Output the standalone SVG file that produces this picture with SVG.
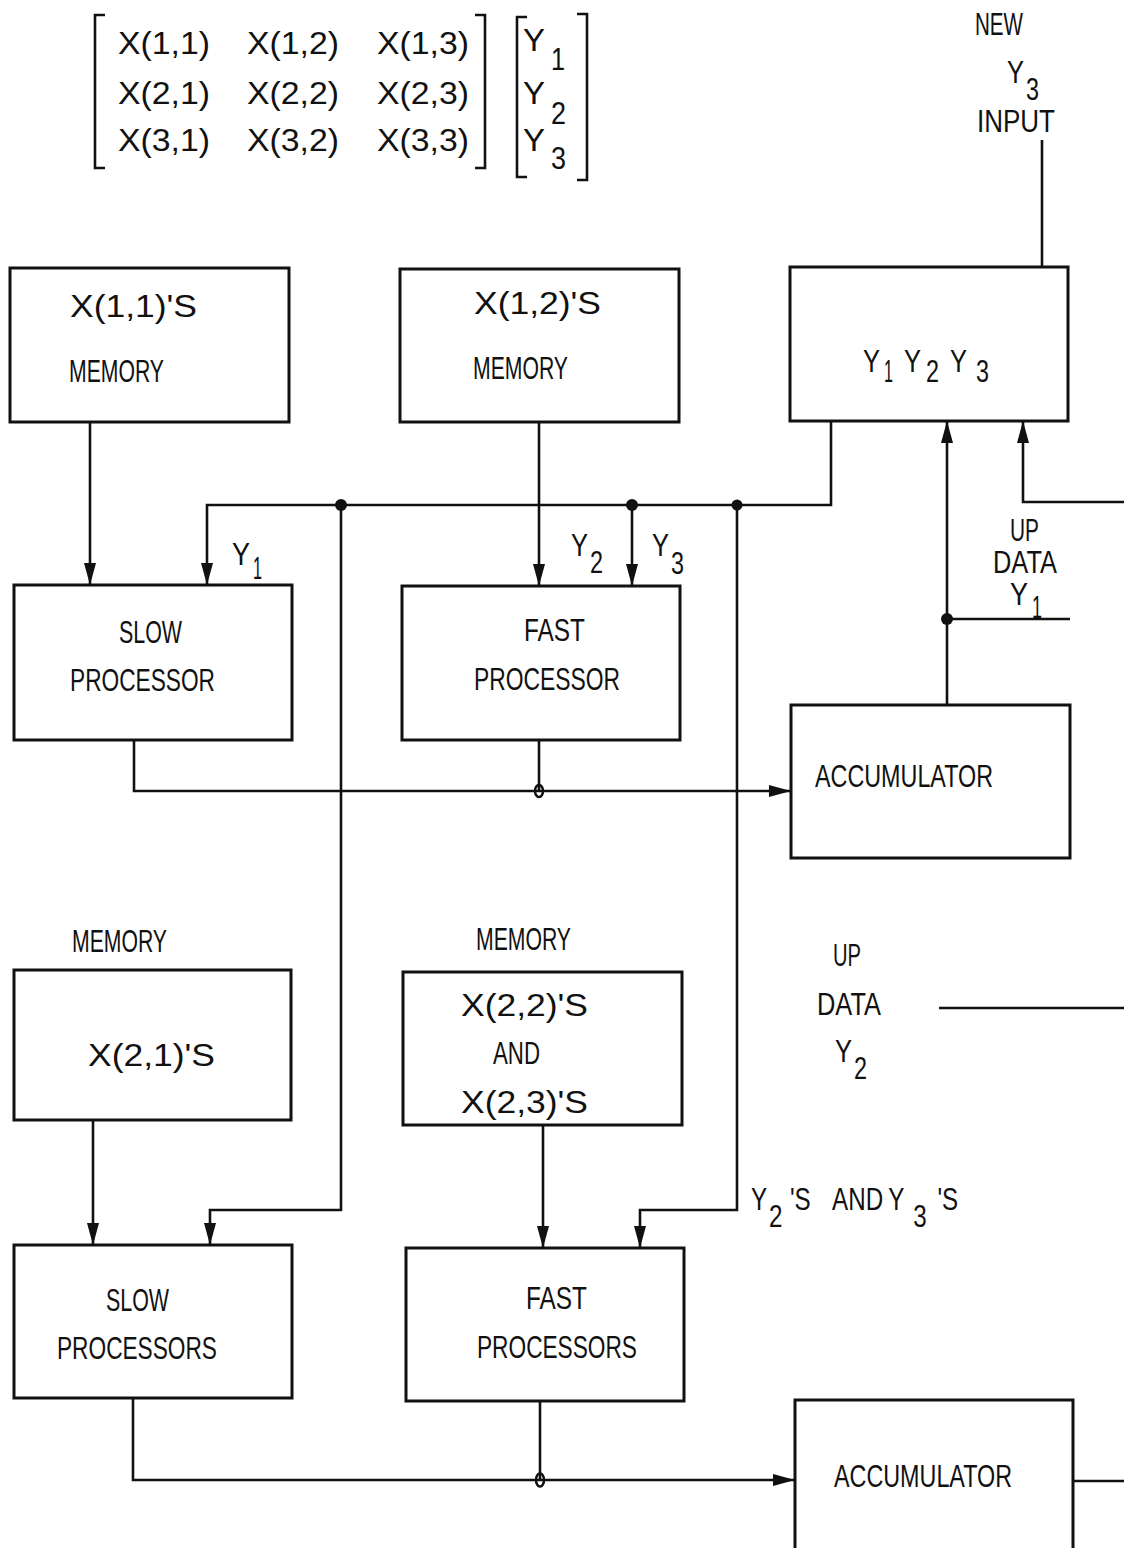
<svg xmlns="http://www.w3.org/2000/svg" width="1124" height="1548" viewBox="0 0 1124 1548">
<style>
text{font-family:"Liberation Sans","DejaVu Sans",sans-serif;font-size:31px;fill:#111}
.m{font-size:32px}
.box{fill:none;stroke:#111;stroke-width:3}
.ln{fill:none;stroke:#111;stroke-width:2.6}
.dot{fill:#111}
.odot{fill:none;stroke:#111;stroke-width:2.5}
</style>
<defs>
<marker id="ah" viewBox="0 0 22 12" refX="22" refY="6" markerWidth="22" markerHeight="12" markerUnits="userSpaceOnUse" orient="auto">
<path d="M0,0 L22,6 L0,12 Z" fill="#111"/>
</marker>
</defs>
<g id="matrix">
<path class="ln" d="M105,15 H95 V168 H105"/>
<path class="ln" d="M475,15 H485 V168 H475"/>
<path class="ln" d="M527,17 H517 V177 H527"/>
<path class="ln" d="M577,14 H587 V180 H577"/>
<text class="m" x="118" y="54" textLength="92" lengthAdjust="spacingAndGlyphs">X(1,1)</text>
<text class="m" x="247" y="54" textLength="92" lengthAdjust="spacingAndGlyphs">X(1,2)</text>
<text class="m" x="377" y="54" textLength="92" lengthAdjust="spacingAndGlyphs">X(1,3)</text>
<text class="m" x="118" y="104" textLength="92" lengthAdjust="spacingAndGlyphs">X(2,1)</text>
<text class="m" x="247" y="104" textLength="92" lengthAdjust="spacingAndGlyphs">X(2,2)</text>
<text class="m" x="377" y="104" textLength="92" lengthAdjust="spacingAndGlyphs">X(2,3)</text>
<text class="m" x="118" y="151" textLength="92" lengthAdjust="spacingAndGlyphs">X(3,1)</text>
<text class="m" x="247" y="151" textLength="92" lengthAdjust="spacingAndGlyphs">X(3,2)</text>
<text class="m" x="377" y="151" textLength="92" lengthAdjust="spacingAndGlyphs">X(3,3)</text>
<text class="m" x="523" y="51" textLength="22" lengthAdjust="spacingAndGlyphs">Y</text>
<text class="m" x="551" y="70" textLength="14" lengthAdjust="spacingAndGlyphs">1</text>
<text class="m" x="523" y="104" textLength="22" lengthAdjust="spacingAndGlyphs">Y</text>
<text class="m" x="551" y="124" textLength="15" lengthAdjust="spacingAndGlyphs">2</text>
<text class="m" x="523" y="151" textLength="22" lengthAdjust="spacingAndGlyphs">Y</text>
<text class="m" x="551" y="169" textLength="15" lengthAdjust="spacingAndGlyphs">3</text>
</g>
<g id="new-input-label">
<text x="975" y="35" textLength="48" lengthAdjust="spacingAndGlyphs">NEW</text>
<text x="1007" y="83" textLength="17" lengthAdjust="spacingAndGlyphs">Y</text>
<text x="1026" y="100" textLength="13" lengthAdjust="spacingAndGlyphs">3</text>
<text x="977" y="132" textLength="78" lengthAdjust="spacingAndGlyphs">INPUT</text>
</g>
<g id="mem11">
<rect class="box" x="10" y="268" width="279" height="154"/>
<text x="70" y="317" textLength="127" lengthAdjust="spacingAndGlyphs">X(1,1)'S</text>
<text x="69" y="382" textLength="95" lengthAdjust="spacingAndGlyphs">MEMORY</text>
</g>
<g id="mem12">
<rect class="box" x="400" y="269" width="279" height="153"/>
<text x="474" y="314" textLength="127" lengthAdjust="spacingAndGlyphs">X(1,2)'S</text>
<text x="473" y="379" textLength="95" lengthAdjust="spacingAndGlyphs">MEMORY</text>
</g>
<g id="yreg">
<rect class="box" x="790" y="267" width="278" height="154"/>
<text x="863" y="372" textLength="17" lengthAdjust="spacingAndGlyphs">Y</text>
<text x="884" y="382" textLength="9" lengthAdjust="spacingAndGlyphs">1</text>
<text x="904" y="372" textLength="17" lengthAdjust="spacingAndGlyphs">Y</text>
<text x="926" y="382" textLength="13" lengthAdjust="spacingAndGlyphs">2</text>
<text x="950" y="372" textLength="17" lengthAdjust="spacingAndGlyphs">Y</text>
<text x="976" y="382" textLength="13" lengthAdjust="spacingAndGlyphs">3</text>
</g>
<g id="slowproc">
<rect class="box" x="14" y="585" width="278" height="155"/>
<text x="119" y="643" textLength="63" lengthAdjust="spacingAndGlyphs">SLOW</text>
<text x="70" y="691" textLength="145" lengthAdjust="spacingAndGlyphs">PROCESSOR</text>
</g>
<g id="fastproc">
<rect class="box" x="402" y="586" width="278" height="154"/>
<text x="524" y="641" textLength="61" lengthAdjust="spacingAndGlyphs">FAST</text>
<text x="474" y="690" textLength="146" lengthAdjust="spacingAndGlyphs">PROCESSOR</text>
</g>
<g id="acc1">
<rect class="box" x="791" y="705" width="279" height="153"/>
<text x="815" y="787" textLength="178" lengthAdjust="spacingAndGlyphs">ACCUMULATOR</text>
</g>
<g id="updata1">
<text x="1010" y="541" textLength="29" lengthAdjust="spacingAndGlyphs">UP</text>
<text x="993" y="573" textLength="64" lengthAdjust="spacingAndGlyphs">DATA</text>
<text x="1010" y="605" textLength="18" lengthAdjust="spacingAndGlyphs">Y</text>
<text x="1032" y="618" textLength="10" lengthAdjust="spacingAndGlyphs">1</text>
</g>
<g id="bus-labels">
<text x="232" y="565" textLength="18" lengthAdjust="spacingAndGlyphs">Y</text>
<text x="253" y="579" textLength="9" lengthAdjust="spacingAndGlyphs">1</text>
<text x="571" y="556" textLength="17" lengthAdjust="spacingAndGlyphs">Y</text>
<text x="590" y="573" textLength="13" lengthAdjust="spacingAndGlyphs">2</text>
<text x="652" y="556" textLength="17" lengthAdjust="spacingAndGlyphs">Y</text>
<text x="671" y="574" textLength="13" lengthAdjust="spacingAndGlyphs">3</text>
</g>
<g id="mem21">
<text x="72" y="952" textLength="95" lengthAdjust="spacingAndGlyphs">MEMORY</text>
<rect class="box" x="14" y="970" width="277" height="150"/>
<text x="88" y="1066" textLength="127" lengthAdjust="spacingAndGlyphs">X(2,1)'S</text>
</g>
<g id="mem2223">
<text x="476" y="950" textLength="95" lengthAdjust="spacingAndGlyphs">MEMORY</text>
<rect class="box" x="403" y="972" width="279" height="153"/>
<text x="461" y="1016" textLength="127" lengthAdjust="spacingAndGlyphs">X(2,2)'S</text>
<text x="493" y="1064" textLength="47" lengthAdjust="spacingAndGlyphs">AND</text>
<text x="461" y="1113" textLength="127" lengthAdjust="spacingAndGlyphs">X(2,3)'S</text>
</g>
<g id="updata2">
<text x="833" y="966" textLength="28" lengthAdjust="spacingAndGlyphs">UP</text>
<text x="817" y="1015" textLength="64" lengthAdjust="spacingAndGlyphs">DATA</text>
<text x="835" y="1062" textLength="17" lengthAdjust="spacingAndGlyphs">Y</text>
<text x="854" y="1079" textLength="13" lengthAdjust="spacingAndGlyphs">2</text>
</g>
<g id="y2y3-label">
<text transform="translate(751,1210) scale(0.78,1)"><tspan x="0" y="0">Y</tspan><tspan x="23" y="17">2</tspan><tspan x="50" y="0">'S</tspan><tspan x="104" y="0">AND</tspan><tspan x="176" y="0">Y</tspan><tspan x="208" y="17">3</tspan><tspan x="239" y="0">'S</tspan></text>
</g>
<g id="slowprocs">
<rect class="box" x="14" y="1245" width="278" height="153"/>
<text x="106" y="1311" textLength="63" lengthAdjust="spacingAndGlyphs">SLOW</text>
<text x="57" y="1359" textLength="160" lengthAdjust="spacingAndGlyphs">PROCESSORS</text>
</g>
<g id="fastprocs">
<rect class="box" x="406" y="1248" width="278" height="153"/>
<text x="526" y="1309" textLength="61" lengthAdjust="spacingAndGlyphs">FAST</text>
<text x="477" y="1358" textLength="160" lengthAdjust="spacingAndGlyphs">PROCESSORS</text>
</g>
<g id="acc2">
<path class="box" d="M795,1550 V1400 H1073 V1550"/>
<text x="834" y="1487" textLength="178" lengthAdjust="spacingAndGlyphs">ACCUMULATOR</text>
</g>
<g id="connectors">
<line class="ln" x1="1042" y1="140" x2="1042" y2="267"/>
<line class="ln" x1="90" y1="422" x2="90" y2="585" marker-end="url(#ah)"/>
<line class="ln" x1="539" y1="422" x2="539" y2="586" marker-end="url(#ah)"/>
<path class="ln" d="M831,421 V505 H207 V585" marker-end="url(#ah)"/>
<line class="ln" x1="632" y1="505" x2="632" y2="586" marker-end="url(#ah)"/>
<path class="ln" d="M341,505 V1210 H210 V1245" marker-end="url(#ah)"/>
<path class="ln" d="M737,505 V1210 H640 V1248" marker-end="url(#ah)"/>
<path class="ln" d="M134,740 V791 H791" marker-end="url(#ah)"/>
<line class="ln" x1="539" y1="740" x2="539" y2="791"/>
<line class="ln" x1="947" y1="705" x2="947" y2="421" marker-end="url(#ah)"/>
<line class="ln" x1="947" y1="619" x2="1070" y2="619"/>
<path class="ln" d="M1124,502 H1023 V421" marker-end="url(#ah)"/>
<line class="ln" x1="939" y1="1008" x2="1124" y2="1008"/>
<line class="ln" x1="93" y1="1120" x2="93" y2="1245" marker-end="url(#ah)"/>
<line class="ln" x1="543" y1="1125" x2="543" y2="1248" marker-end="url(#ah)"/>
<path class="ln" d="M133,1398 V1480 H795" marker-end="url(#ah)"/>
<line class="ln" x1="540" y1="1401" x2="540" y2="1480"/>
<line class="ln" x1="1073" y1="1481" x2="1124" y2="1481"/>
<circle class="dot" cx="341" cy="505" r="6"/>
<circle class="dot" cx="632" cy="505" r="6"/>
<circle class="dot" cx="737" cy="505" r="5.5"/>
<circle class="dot" cx="947" cy="619" r="6"/>
<ellipse class="odot" cx="539" cy="791" rx="4" ry="6"/>
<ellipse class="odot" cx="540" cy="1480" rx="4" ry="6.5"/>
</g>
</svg>
